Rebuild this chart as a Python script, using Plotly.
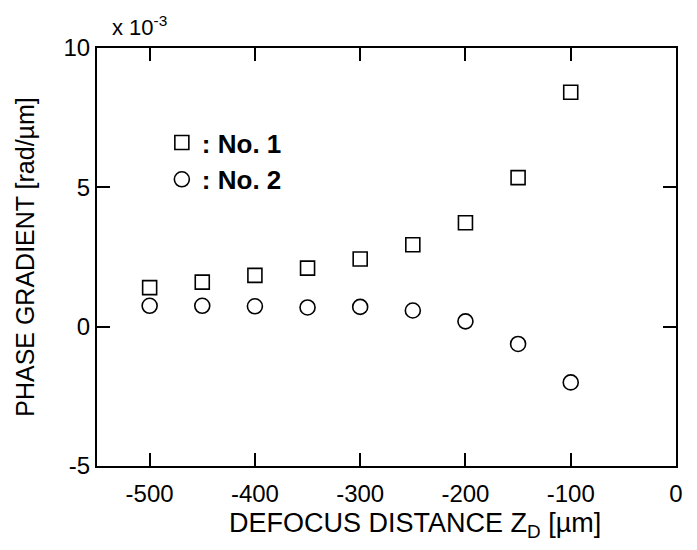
import plotly.graph_objects as go

defocus = [-500, -450, -400, -350, -300, -250, -200, -150, -100]
no1 = [1.40, 1.60, 1.84, 2.10, 2.43, 2.94, 3.73, 5.35, 8.41]
no2 = [0.75, 0.75, 0.73, 0.69, 0.71, 0.58, 0.19, -0.62, -2.00]
x_ticks = [-500, -400, -300, -200, -100, 0]
y_ticks = [-5, 0, 5, 10]

FONT = "Liberation Sans, Arial, Helvetica, sans-serif"

fig = go.Figure()
fig.add_trace(go.Scatter(
    x=defocus, y=no1, mode="markers", name="<b>: No. 1</b>",
    marker=dict(symbol="square-open", size=14, color="black", line=dict(width=1.6, color="black")),
))
fig.add_trace(go.Scatter(
    x=defocus, y=no2, mode="markers", name="<b>: No. 2</b>",
    marker=dict(symbol="circle-open", size=15, color="black", line=dict(width=1.6, color="black")),
))

axis_common = dict(
    showgrid=False, zeroline=False, showline=True, linecolor="black", linewidth=2,
    mirror="allticks", ticks="inside", ticklen=13, tickwidth=1.6, tickcolor="black",
    tickfont=dict(family=FONT, size=24, color="black"),
)

fig.update_layout(
    width=689, height=542,
    margin=dict(l=89, r=21, t=40, b=84),
    paper_bgcolor="white", plot_bgcolor="white",
    font=dict(family=FONT, color="black"),
    xaxis=dict(range=[-550, 0], tickvals=x_ticks, ticktext=[str(v) for v in x_ticks],
               ticklabelstandoff=5, **axis_common),
    yaxis=dict(range=[-5, 10], tickvals=y_ticks, ticktext=[str(v) for v in y_ticks],
               title=dict(text="PHASE GRADIENT [rad/µm]", font=dict(family=FONT, size=25), standoff=22),
               **axis_common),
    legend=dict(x=0.112, y=0.83, xanchor="left", yanchor="top", bgcolor="rgba(0,0,0,0)",
                font=dict(family=FONT, size=26, color="black"), itemwidth=30,
                tracegroupgap=0),
    showlegend=True,
    annotations=[
        dict(text="x 10<sup>-3</sup>", xref="paper", yref="paper", x=0.022, y=1.0,
             xanchor="left", yanchor="bottom", showarrow=False, yshift=6,
             font=dict(family=FONT, size=22, color="black")),
        dict(text="DEFOCUS DISTANCE Z<sub>D</sub> [µm]", xref="paper", yref="paper",
             x=0.549, y=0, xanchor="center", yanchor="middle", yshift=-59, showarrow=False,
             font=dict(family=FONT, size=27, color="black")),
    ],
)

fig.write_html("out.html")
